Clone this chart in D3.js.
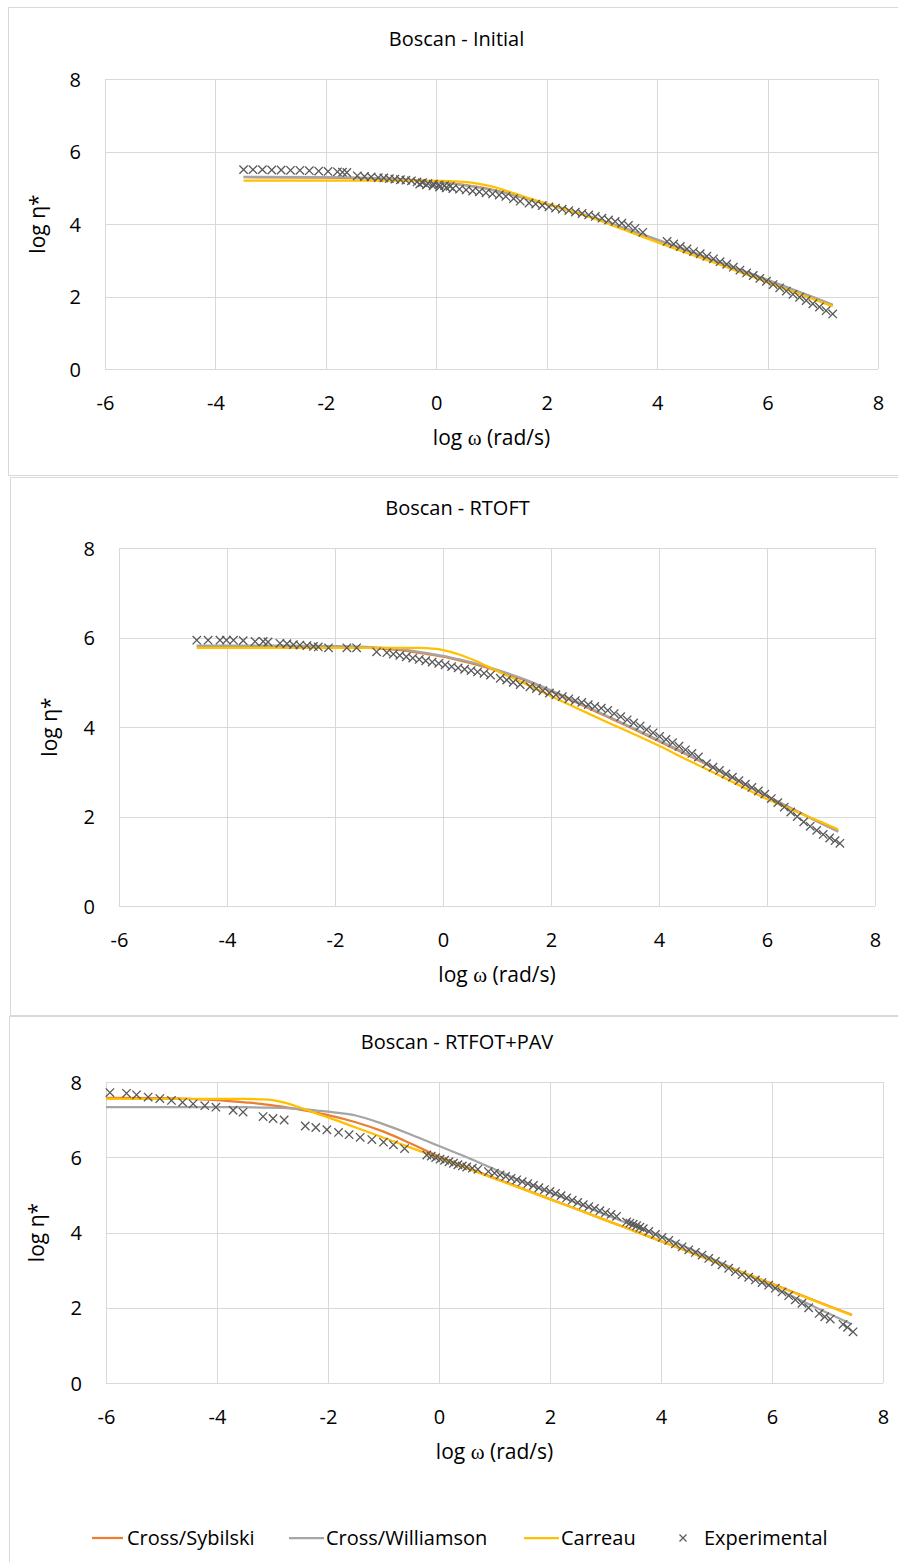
<!DOCTYPE html>
<html>
<head>
<meta charset="utf-8">
<script src="https://cdn.jsdelivr.net/npm/d3@7"></script>
<style>
  body { margin: 0; background: #fff; }
  text { font-family: "Open Sans", "Noto Sans", sans-serif; fill: #000; }
</style>
</head>
<body>
<script>
// axis ticks shared by all three charts
const xTicks = [-6, -4, -2, 0, 2, 4, 6, 8]
const yTicks = [0, 2, 4, 6, 8]
const seriesNames = ["Cross/Sybilski", "Cross/Williamson", "Carreau", "Experimental"]
const seriesColors = ["#ED7D31", "#A5A5A5", "#FFC000", "#595959"]

// ---- Boscan - Initial
const initialExpX = [-3.49,-3.32,-3.15,-2.98,-2.81,-2.64,-2.47,-2.30,-2.13,-1.96,-1.79,-1.70,-1.62,
  -1.43,-1.30,-1.18,-1.05,-0.95,-0.85,-0.75,-0.65,-0.55,-0.45,-0.35,-0.25,-0.15,-0.05,0.05,0.15,0.25,
  -0.30,-0.18,-0.06,0.06,0.18,0.30,0.42,0.54,0.66,0.78,0.90,1.02,1.14,1.26,1.40,
  1.52,1.68,1.80,1.92,2.04,2.16,2.28,2.40,2.52,2.64,2.76,2.88,3.00,3.12,3.24,3.36,3.48,3.60,3.74,
  4.18,4.30,4.42,4.54,4.66,4.78,4.90,5.02,5.14,5.26,5.38,5.50,5.62,5.74,5.86,5.98,6.10,6.22,6.34,6.46,6.58,6.70,6.82,6.94,7.06,7.18]
const initialExpY = [5.50,5.50,5.50,5.49,5.49,5.48,5.48,5.47,5.46,5.45,5.44,5.43,5.42,
  5.33,5.31,5.30,5.28,5.27,5.25,5.24,5.22,5.21,5.19,5.16,5.14,5.12,5.10,5.08,5.06,5.04,
  5.10,5.08,5.05,5.02,5.00,4.98,4.96,4.94,4.91,4.89,4.86,4.83,4.80,4.76,4.70,
  4.63,4.58,4.55,4.51,4.47,4.44,4.41,4.37,4.33,4.29,4.25,4.21,4.16,4.11,4.07,4.02,3.96,3.88,3.77,
  3.52,3.45,3.38,3.31,3.24,3.18,3.11,3.04,2.96,2.89,2.81,2.73,2.65,2.58,2.50,2.42,2.33,2.24,2.15,2.06,1.98,1.89,1.80,1.71,1.61,1.52]
const initialModelX = [-3.49,-2,-1,-0.5,0,0.5,0.8,1,1.2,1.4,1.6,2,2.5,3,3.5,4,4.5,5,5.5,6,6.5,7,7.18]
const initialSybilski = [5.29,5.28,5.25,5.22,5.17,5.08,5.01,4.95,4.88,4.80,4.72,4.55,4.33,4.09,3.83,3.56,3.29,3.01,2.73,2.45,2.16,1.87,1.76]
const initialWilliamson = [5.30,5.29,5.26,5.22,5.16,5.07,5.00,4.94,4.87,4.79,4.71,4.55,4.34,4.10,3.84,3.57,3.30,3.02,2.74,2.46,2.17,1.88,1.77]
const initialCarreau = [5.20,5.20,5.20,5.20,5.19,5.16,5.10,5.04,4.95,4.85,4.75,4.56,4.33,4.07,3.78,3.50,3.22,2.95,2.67,2.39,2.11,1.83,1.73]

// ---- Boscan - RTOFT
const rtfotExpX = [-4.56,-4.35,-4.13,-4.01,-3.88,-3.70,-3.48,-3.33,-3.24,-3.02,-2.89,-2.77,-2.65,-2.52,-2.40,-2.31,-2.12,-1.78,-1.60,
  -1.23,-1.04,-0.92,-0.80,-0.68,-0.56,-0.44,-0.32,-0.20,-0.08,0.04,0.16,0.28,0.40,0.52,0.64,0.76,0.88,
  1.06,1.18,1.30,1.43,
  1.61,1.73,1.85,1.97,2.09,2.21,2.33,2.45,2.57,2.69,2.81,2.93,3.05,3.17,3.29,3.41,3.53,3.65,3.77,3.89,4.01,4.13,4.25,4.37,4.49,4.61,4.73,
  4.88,5.00,5.12,5.24,5.36,5.48,5.60,5.72,5.84,5.96,6.08,6.20,6.32,6.44,6.56,6.68,6.80,6.92,7.04,7.16,7.26,7.35]
const rtfotExpY = [5.94,5.94,5.94,5.94,5.94,5.93,5.91,5.91,5.90,5.87,5.86,5.84,5.83,5.82,5.80,5.79,5.77,5.77,5.77,
  5.68,5.66,5.63,5.60,5.57,5.54,5.51,5.48,5.45,5.42,5.39,5.35,5.32,5.29,5.26,5.23,5.20,5.16,
  5.09,5.05,5.00,4.95,
  4.90,4.86,4.81,4.76,4.72,4.68,4.63,4.59,4.55,4.50,4.46,4.42,4.37,4.30,4.23,4.16,4.09,4.02,3.94,3.87,3.79,3.72,3.65,3.57,3.49,3.41,3.33,
  3.18,3.10,3.03,2.95,2.88,2.80,2.72,2.65,2.57,2.50,2.40,2.31,2.21,2.10,2.00,1.88,1.78,1.69,1.60,1.52,1.46,1.40]
const rtfotModelX = [-4.56,-3,-2,-1,-0.5,-0.3,0,0.3,0.6,1,1.5,2,2.5,3,3.5,4,4.5,5,5.5,6,6.5,7,7.32]
const rtfotSybilski = [5.80,5.80,5.79,5.74,5.67,5.63,5.57,5.49,5.40,5.26,5.05,4.80,4.53,4.25,3.97,3.68,3.39,3.09,2.77,2.45,2.15,1.85,1.67]
const rtfotWilliamson = [5.82,5.82,5.81,5.76,5.69,5.65,5.59,5.51,5.42,5.28,5.07,4.82,4.55,4.27,3.99,3.70,3.41,3.10,2.78,2.46,2.15,1.85,1.66]
const rtfotCarreau = [5.77,5.77,5.77,5.77,5.77,5.76,5.72,5.62,5.48,5.25,4.98,4.69,4.41,4.13,3.86,3.58,3.28,2.99,2.69,2.39,2.13,1.88,1.71]

// ---- Boscan - RTFOT+PAV
const pavExpX = [-5.93,-5.63,-5.45,-5.24,-5.03,-4.82,-4.62,-4.43,-4.22,-4.02,-3.71,-3.53,-3.17,-2.99,-2.79,-2.41,-2.22,-2.02,-1.81,-1.62,-1.42,-1.21,-1.00,-0.82,-0.62,
  -0.22,-0.14,-0.06,0.02,0.10,0.18,0.26,0.34,0.42,0.50,0.60,0.70,
  0.89,1.00,1.10,1.20,1.30,1.40,1.50,1.60,1.70,1.80,1.90,2.00,2.10,2.20,2.30,2.40,2.50,2.60,2.70,2.80,2.90,3.00,3.10,3.20,
  3.38,3.44,3.50,3.56,3.62,3.68,
  3.78,3.90,4.02,4.14,4.26,4.38,4.50,4.62,4.74,4.86,4.98,5.10,5.22,5.34,5.46,5.58,5.70,5.82,5.94,6.06,6.18,6.30,6.42,6.54,6.66,
  6.85,6.95,7.05,7.28,7.36,7.46]
const pavExpY = [7.72,7.70,7.66,7.60,7.56,7.51,7.46,7.42,7.37,7.33,7.25,7.20,7.08,7.03,6.99,6.83,6.79,6.73,6.66,6.60,6.53,6.47,6.40,6.33,6.23,
  6.06,6.03,5.99,5.95,5.92,5.88,5.84,5.80,5.77,5.74,5.71,5.68,
  5.62,5.58,5.53,5.49,5.44,5.40,5.35,5.30,5.25,5.19,5.14,5.09,5.04,4.98,4.92,4.86,4.80,4.74,4.69,4.64,4.58,4.53,4.48,4.43,
  4.28,4.25,4.22,4.18,4.14,4.10,
  4.03,3.95,3.87,3.79,3.70,3.62,3.54,3.47,3.40,3.31,3.23,3.14,3.05,2.96,2.88,2.81,2.74,2.67,2.60,2.52,2.42,2.32,2.21,2.12,2.00,
  1.85,1.76,1.70,1.56,1.48,1.36]
const pavModelX = [-6,-5,-4.5,-4,-3.5,-3.2,-3,-2.8,-2.6,-2.4,-2.2,-2,-1.5,-1,-0.5,0,0.5,1,1.5,2,2.5,3,3.5,4,4.5,5,5.5,6,6.5,7,7.44]
const pavSybilski = [7.58,7.57,7.55,7.52,7.46,7.42,7.38,7.34,7.29,7.24,7.18,7.12,6.93,6.68,6.36,6.02,5.73,5.45,5.17,4.89,4.61,4.33,4.05,3.77,3.49,3.21,2.92,2.64,2.35,2.06,1.81]
const pavWilliamson = [7.33,7.33,7.33,7.33,7.33,7.32,7.32,7.31,7.29,7.27,7.24,7.21,7.11,6.88,6.60,6.30,6.00,5.68,5.36,5.06,4.77,4.47,4.19,3.90,3.58,3.25,2.91,2.56,2.21,1.86,1.56]
const pavCarreau = [7.55,7.55,7.55,7.55,7.55,7.54,7.52,7.46,7.37,7.27,7.16,7.06,6.79,6.52,6.25,5.98,5.71,5.43,5.16,4.88,4.61,4.33,4.05,3.77,3.49,3.20,2.92,2.63,2.34,2.05,1.80]

const W = 898, H = 1562
const svg = d3.select("body").append("svg")
  .attr("width", W).attr("height", H)
  .attr("viewBox", [0, 0, W, H])

svg.append("rect").attr("width", W).attr("height", H).attr("fill", "#fff")

const panels = [
  { title: "Boscan - Initial", box: [8, 7, 905, 475], plot: { left: 105, right: 878, top: 79, bottom: 369 }, yTitleX: 38,
    expX: initialExpX, expY: initialExpY, modelX: initialModelX, models: [initialSybilski, initialWilliamson, initialCarreau] },
  { title: "Boscan - RTOFT", box: [10, 477, 905, 1015], plot: { left: 119, right: 875, top: 548, bottom: 906 }, yTitleX: 50,
    expX: rtfotExpX, expY: rtfotExpY, modelX: rtfotModelX, models: [rtfotSybilski, rtfotWilliamson, rtfotCarreau] },
  { title: "Boscan - RTFOT+PAV", box: [9, 1016, 905, 1575], plot: { left: 106, right: 883, top: 1082, bottom: 1383 }, yTitleX: 37,
    expX: pavExpX, expY: pavExpY, modelX: pavModelX, models: [pavSybilski, pavWilliamson, pavCarreau] }
]

const crossPath = s => `M${-s},${-s}L${s},${s}M${-s},${s}L${s},${-s}`

panels.forEach(p => {
  const [bx0, by0, bx1, by1] = p.box
  svg.append("rect")
    .attr("x", bx0 + 0.5).attr("y", by0 + 0.5)
    .attr("width", bx1 - bx0).attr("height", by1 - by0)
    .attr("fill", "#fff").attr("stroke", "#d9d9d9")

  const x = d3.scaleLinear().domain([-6, 8]).range([p.plot.left, p.plot.right])
  const y = d3.scaleLinear().domain([0, 8]).range([p.plot.bottom, p.plot.top])
  const w = p.plot.right - p.plot.left
  const h = p.plot.bottom - p.plot.top

  svg.append("text")
    .attr("x", (bx0 + bx1) / 2).attr("y", p.plot.top - 40)
    .attr("dy", "0.35em").attr("text-anchor", "middle")
    .attr("font-size", 20)
    .text(p.title)

  // grid + labels via d3 axes
  const gx = svg.append("g")
    .attr("transform", `translate(0,${p.plot.bottom})`)
    .call(d3.axisBottom(x).tickValues(xTicks).tickSize(-h).tickFormat(d => String(d)))
  gx.select(".domain").remove()
  gx.selectAll("line").attr("stroke", "#d9d9d9").attr("shape-rendering", "crispEdges")
  gx.selectAll("text").attr("y", 34).attr("dy", "0.35em")
    .attr("font-size", 20).attr("font-family", "Open Sans").attr("fill", "#000")

  const gy = svg.append("g")
    .attr("transform", `translate(${p.plot.left},0)`)
    .call(d3.axisLeft(y).tickValues(yTicks).tickSize(-w).tickPadding(24).tickFormat(d => String(d)))
  gy.select(".domain").remove()
  gy.selectAll("line").attr("stroke", "#d9d9d9").attr("shape-rendering", "crispEdges")
  gy.selectAll("text").attr("dy", "0.35em")
    .attr("font-size", 20).attr("font-family", "Open Sans").attr("fill", "#000")

  // axis titles
  const xt = svg.append("text")
    .attr("x", (p.plot.left + p.plot.right) / 2).attr("y", p.plot.bottom + 69)
    .attr("dy", "0.35em").attr("text-anchor", "middle").attr("font-size", 21)
  xt.append("tspan").text("log ")
  xt.append("tspan").attr("font-family", "Liberation Serif, DejaVu Serif, serif").text("ω")
  xt.append("tspan").text(" (rad/s)")

  svg.append("text")
    .attr("transform", `translate(${p.yTitleX},${(p.plot.top + p.plot.bottom) / 2}) rotate(-90)`)
    .attr("dy", "0.35em").attr("text-anchor", "middle").attr("font-size", 21)
    .text("log η*")

  const line = d3.line().curve(d3.curveMonotoneX)
  p.models.forEach((vals, i) => {
    svg.append("path")
      .datum(p.modelX.map((xv, j) => [xv, vals[j]]))
      .attr("fill", "none")
      .attr("stroke", seriesColors[i])
      .attr("stroke-width", 2.25)
      .attr("stroke-linejoin", "round")
      .attr("d", line.x(d => x(d[0])).y(d => y(d[1])))
  })

  svg.append("g")
    .selectAll("path")
    .data(p.expX.map((xv, j) => [xv, p.expY[j]]))
    .join("path")
      .attr("transform", d => `translate(${x(d[0])},${y(d[1])})`)
      .attr("d", crossPath(4.2))
      .attr("stroke", seriesColors[3])
      .attr("stroke-width", 1.3)
      .attr("fill", "none")
})

// legend
const legendY = 1538
const legendItems = [
  { x0: 92, x1: 123, tx: 127 },
  { x0: 289, x1: 324, tx: 326 },
  { x0: 524, x1: 559, tx: 561 },
  { x0: 683, x1: 683, tx: 704 }
]
const lg = svg.append("g")
seriesNames.forEach((name, i) => {
  const it = legendItems[i]
  if (i < 3) {
    lg.append("line")
      .attr("x1", it.x0).attr("x2", it.x1).attr("y1", legendY).attr("y2", legendY)
      .attr("stroke", seriesColors[i]).attr("stroke-width", 2.25)
  } else {
    lg.append("path")
      .attr("transform", `translate(${it.x0},${legendY})`)
      .attr("d", crossPath(3.5))
      .attr("stroke", seriesColors[i]).attr("stroke-width", 1.2).attr("fill", "none")
  }
  lg.append("text")
    .attr("x", it.tx).attr("y", legendY).attr("dy", "0.35em")
    .attr("font-size", 20)
    .text(name)
})
</script>
</body>
</html>
